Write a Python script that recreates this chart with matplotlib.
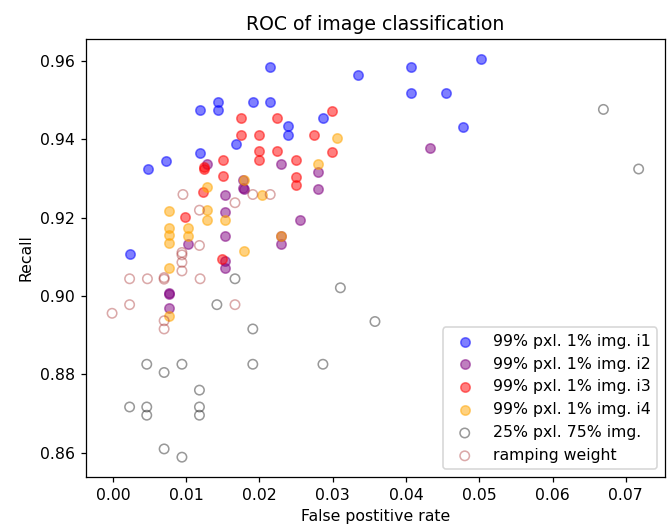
import numpy as np
import matplotlib
matplotlib.use("Agg")
import matplotlib.pyplot as plt

# false positive rate / recall per run
i1_fpr = [0.02148, 0.01434, 0.01434, 0.01195, 0.01914, 0.02148, 0.01677, 0.01195, 0.00720, 0.00477,
          0.02396, 0.02396, 0.03348, 0.04066, 0.04066, 0.04542, 0.04784, 0.05023, 0.02867, 0.00239]
i1_rec = [0.9584, 0.9496, 0.9475, 0.9475, 0.9496, 0.9496, 0.9389, 0.9366, 0.9345, 0.9324,
          0.9434, 0.9411, 0.9564, 0.9584, 0.9517, 0.9517, 0.9432, 0.9605, 0.9453, 0.9108]

i2_fpr = [0.01280, 0.02296, 0.02800, 0.02800, 0.01532, 0.01532, 0.01532, 0.01024, 0.02552, 0.02296,
          0.02296, 0.01780, 0.01780, 0.01790, 0.01532, 0.01532, 0.00768, 0.00768, 0.00768, 0.04326]
i2_rec = [0.9338, 0.9338, 0.9317, 0.9274, 0.9257, 0.9214, 0.9153, 0.9132, 0.9193, 0.9153,
          0.9132, 0.9297, 0.9276, 0.9272, 0.9090, 0.9072, 0.9009, 0.9005, 0.8970, 0.9378]

i3_fpr = [0.01752, 0.02247, 0.01752, 0.01990, 0.01990, 0.01990, 0.02247, 0.01500, 0.01240, 0.01240,
          0.01500, 0.02499, 0.02499, 0.02499, 0.02740, 0.02992, 0.02992, 0.01236, 0.00989, 0.01496]
i3_rec = [0.9453, 0.9453, 0.9411, 0.9411, 0.9370, 0.9348, 0.9370, 0.9348, 0.9330, 0.9324,
          0.9306, 0.9347, 0.9304, 0.9283, 0.9411, 0.9472, 0.9368, 0.9266, 0.9201, 0.9095]

i4_fpr = [0.02800, 0.01788, 0.01280, 0.02035, 0.01280, 0.01280, 0.01532, 0.01024, 0.01024, 0.02296,
          0.01788, 0.00768, 0.00768, 0.00768, 0.00768, 0.00768, 0.00768, 0.03055]
i4_rec = [0.9338, 0.9297, 0.9278, 0.9257, 0.9219, 0.9195, 0.9195, 0.9174, 0.9153, 0.9153,
          0.9114, 0.9217, 0.9174, 0.9155, 0.9136, 0.9072, 0.8950, 0.9402]

low_fpr = [0.01667, 0.01420, 0.01910, 0.00463, 0.00700, 0.00943, 0.01910, 0.01182, 0.00229, 0.00463,
           0.00463, 0.01182, 0.01182, 0.00700, 0.00943, 0.03105, 0.03577, 0.02867, 0.06694, 0.07175]
low_rec = [0.9044, 0.8978, 0.8916, 0.8826, 0.8805, 0.8826, 0.8826, 0.8760, 0.8717, 0.8717,
           0.8696, 0.8717, 0.8696, 0.8610, 0.8589, 0.9021, 0.8935, 0.8826, 0.9476, 0.9324]

ramp_fpr = [0.00957, 0.01667, 0.01910, 0.02148, 0.01182, 0.01182, 0.00943, 0.00943, 0.00943, 0.00943,
            0.00229, 0.00472, 0.00700, 0.00700, 0.01191, 0.00229, 0.01667, -0.00010, 0.00700, 0.00700]
ramp_rec = [0.9259, 0.9238, 0.9259, 0.9259, 0.9219, 0.9129, 0.9111, 0.9105, 0.9086, 0.9064,
            0.9044, 0.9044, 0.9047, 0.9043, 0.9044, 0.8978, 0.8978, 0.8956, 0.8937, 0.8916]

labels = ["99% pxl. 1% img. i1", "99% pxl. 1% img. i2", "99% pxl. 1% img. i3",
          "99% pxl. 1% img. i4", "25% pxl. 75% img.", "ramping weight"]

dpi = 113
fig = plt.figure(figsize=(670 / dpi, 526 / dpi), dpi=dpi)
ax = fig.add_axes([0.128, 0.093, 0.8645, 0.833])

ax.scatter(i1_fpr, i1_rec, color="blue", alpha=0.5, label=labels[0])
ax.scatter(i2_fpr, i2_rec, color="purple", alpha=0.5, label=labels[1])
ax.scatter(i3_fpr, i3_rec, color="red", alpha=0.5, label=labels[2])
ax.scatter(i4_fpr, i4_rec, color="orange", alpha=0.5, label=labels[3])
ax.scatter(low_fpr, low_rec, facecolors="none", edgecolors="black", alpha=0.4, label=labels[4])
ax.scatter(ramp_fpr, ramp_rec, facecolors="none", edgecolors="brown", alpha=0.4, label=labels[5])

ax.set_xticks(np.arange(0, 0.071, 0.01))
ax.set_title("ROC of image classification")
ax.set_xlabel("False postitive rate")
ax.set_ylabel("Recall")
ax.legend(loc="lower right")

fig.savefig("out.png", dpi=dpi)
